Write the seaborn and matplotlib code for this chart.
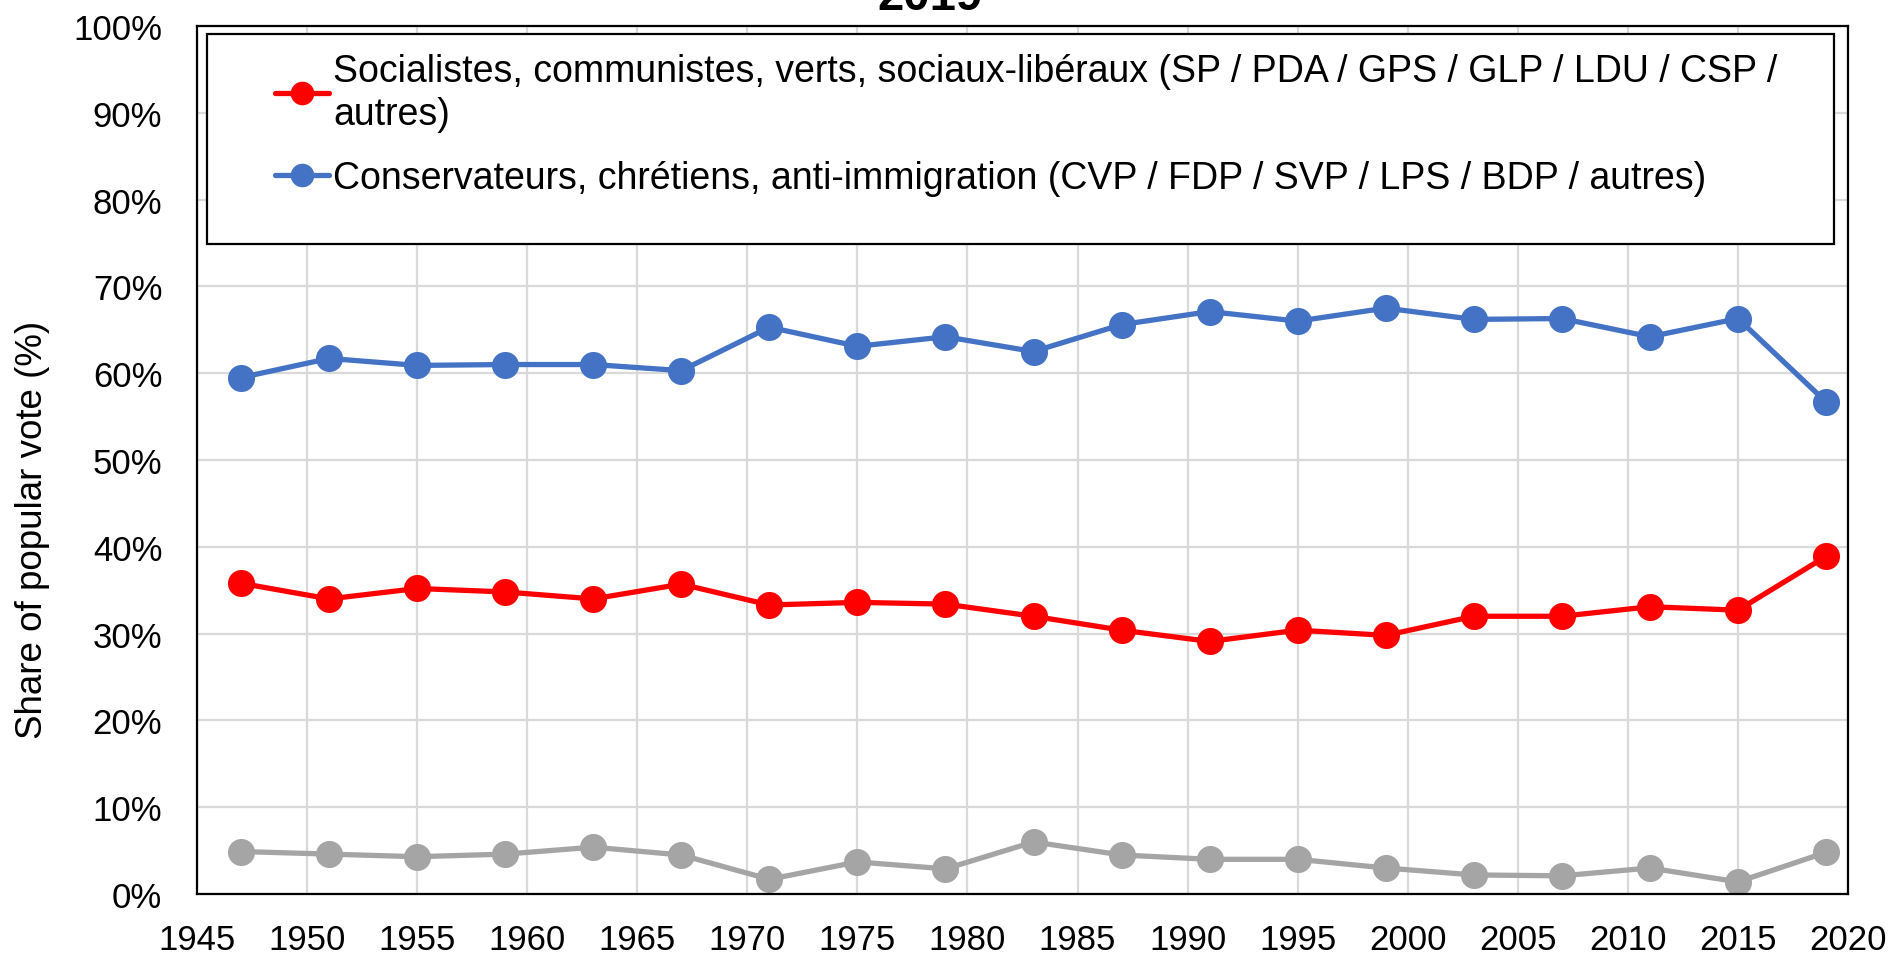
import numpy as np
import pandas as pd
import matplotlib
matplotlib.use('Agg')
import matplotlib.pyplot as plt
import seaborn as sns
from matplotlib.patches import Rectangle
from matplotlib.ticker import PercentFormatter

# ===================== data =====================
years = [1947, 1951, 1955, 1959, 1963, 1967, 1971, 1975, 1979, 1983,
         1987, 1991, 1995, 1999, 2003, 2007, 2011, 2015, 2019]

left_share = [35.8, 34.0, 35.2, 34.8, 34.0, 35.7, 33.3, 33.6, 33.4, 32.0,
              30.4, 29.1, 30.4, 29.8, 32.0, 32.0, 33.1, 32.7, 38.9]
right_share = [59.5, 61.7, 60.9, 61.0, 61.0, 60.3, 65.3, 63.1, 64.2, 62.5,
               65.6, 67.1, 66.0, 67.5, 66.2, 66.3, 64.2, 66.3, 56.7]
other_share = [4.9, 4.6, 4.3, 4.6, 5.4, 4.5, 1.7, 3.7, 2.9, 6.0,
               4.5, 4.0, 4.0, 3.0, 2.2, 2.1, 3.0, 1.4, 4.8]

left_label = 'Socialistes, communistes, verts, sociaux-libéraux (SP / PDA / GPS / GLP / LDU / CSP /\nautres)'
right_label = 'Conservateurs, chrétiens, anti-immigration (CVP / FDP / SVP / LPS / BDP / autres)'
title_text = '2019'
ylabel_text = 'Share of popular vote (%)'

# ===================== style =====================
sns.set_style('whitegrid')
plt.rcParams['font.family'] = ['Liberation Sans', 'DejaVu Sans']
plt.rcParams['text.color'] = 'black'

fig = plt.figure(figsize=(18.96, 9.54), dpi=100)
ax = fig.add_axes([0.1039, 0.0618, 0.8708, 0.9099])

df = pd.DataFrame({'year': years, 'left': left_share,
                   'right': right_share, 'other': other_share})

line_kw = dict(marker='o', markersize=19.5, linewidth=3.8, markeredgewidth=0)
sns.lineplot(data=df, x='year', y='left', color='#FF0000', ax=ax,
             label=left_label, **line_kw)
sns.lineplot(data=df, x='year', y='right', color='#4472C4', ax=ax,
             label=right_label, **line_kw)
sns.lineplot(data=df, x='year', y='other', color='#A5A5A5', ax=ax,
             **line_kw)

ax.set_xlim(1945, 2020)
ax.set_ylim(0, 100)
ax.set_xticks(range(1945, 2021, 5))
ax.set_yticks(range(0, 101, 10))
ax.yaxis.set_major_formatter(PercentFormatter(decimals=0))
ax.tick_params(axis='y', labelsize=25, length=0, pad=25, colors='black')
ax.tick_params(axis='x', labelsize=25, length=0, pad=21, colors='black')
ax.set_xlabel('')
ax.set_ylabel('')
fig.text(33 / 1896, 1 - 530 / 954, ylabel_text, rotation=90,
         ha='center', va='center', fontsize=26.5, color='black')
ax.grid(True, color='#d9d9d9', linewidth=1.6)
for sp in ax.spines.values():
    sp.set_visible(True)
    sp.set_color('black')
    sp.set_linewidth(1.6)

# legend box (Excel-like, wider than its text)
box = Rectangle((0.006, 0.749), 0.9855, 0.2418, transform=ax.transAxes,
                facecolor='white', edgecolor='black', linewidth=1.6, zorder=4)
ax.add_patch(box)
handles, labels = ax.get_legend_handles_labels()
leg = ax.legend(handles[:2], labels[:2], loc='upper left',
                bbox_to_anchor=(0.047, 0.969), frameon=False, fontsize=27,
                handlelength=1.45, handletextpad=0.12, labelspacing=0.75,
                borderaxespad=0, borderpad=0)
leg.set_zorder(5)
for t in leg.get_texts():
    t.set_linespacing(1.25)
    t.set_color('black')
for h in leg.legend_handles:
    h.set_markersize(17)
    h.set_linewidth(3.8)

fig.text(0.4905, 1 - 10 / 954, title_text, ha='center', va='baseline',
         fontsize=34, fontweight='bold', color='black')

fig.savefig('out.png', dpi=100)
